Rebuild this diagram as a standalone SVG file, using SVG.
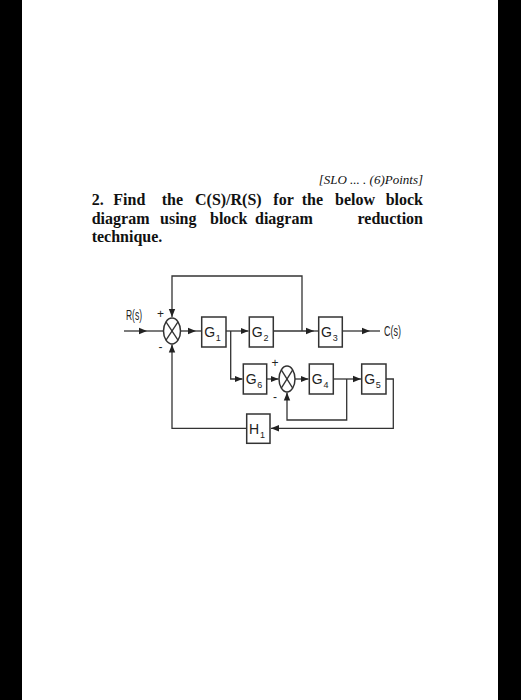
<svg xmlns="http://www.w3.org/2000/svg" width="521" height="700" viewBox="0 0 521 700">
<defs>
<style>
.bar{fill:#000}
.page{fill:#fff}
.hdr{font-family:"Liberation Serif","Times New Roman",serif;font-size:16px;font-weight:bold;fill:#111}
.slo{font-family:"Liberation Serif","Times New Roman",serif;font-size:13px;font-style:italic;fill:#111}
.blk{fill:#fff;stroke:#333;stroke-width:1.5}
.sum{fill:#fff;stroke:#333;stroke-width:1.5}
.x{stroke:#333;stroke-width:1.3}
.lbl{font-family:"Liberation Sans",Arial,sans-serif;font-size:14px;fill:#222}
.sub{font-family:"Liberation Sans",Arial,sans-serif;font-size:9px;fill:#222}
.sig{font-family:"Liberation Sans",Arial,sans-serif;font-size:14px;fill:#222}
.pm{font-family:"Liberation Sans",Arial,sans-serif;font-size:12px;fill:#222}
.w{fill:none;stroke:#333;stroke-width:1.3}
</style>
<marker id="arr" viewBox="0 0 8 8" refX="8" refY="4" markerWidth="8" markerHeight="8" markerUnits="userSpaceOnUse" orient="auto">
<path d="M0,0.8 L8,4 L0,7.2 Z" fill="#222"/>
</marker>
</defs>
<rect class="page" x="0" y="0" width="521" height="700"/>
<rect class="bar" x="0" y="0" width="22" height="700"/>
<rect class="bar" x="498" y="0" width="23" height="700"/>

<g id="header">
<text class="slo" x="423" y="184" text-anchor="end">[SLO ... . (6)Points]</text>
<text class="hdr" y="205"><tspan x="91.7">2.</tspan><tspan x="113.3">Find</tspan><tspan x="161.7">the</tspan><tspan x="195">C(S)/R(S)</tspan><tspan x="273.3">for</tspan><tspan x="301.7">the</tspan><tspan x="335">below</tspan><tspan x="423" text-anchor="end">block</tspan></text>
<text class="hdr" y="224"><tspan x="91.7">diagram</tspan><tspan x="160">using</tspan><tspan x="210">block</tspan><tspan x="255">diagram</tspan><tspan x="423" text-anchor="end">reduction</tspan></text>
<text class="hdr" x="91.7" y="242">technique.</text>
</g>

<g id="connectors">
<path class="w" d="M124,331 H147" marker-end="url(#arr)"/>
<path class="w" d="M147,331 H163.5"/>
<path class="w" d="M180.5,331 H196" marker-end="url(#arr)"/>
<path class="w" d="M196,331 H201.7"/>
<path class="w" d="M226,331 H248.5" marker-end="url(#arr)"/>
<path class="w" d="M230.7,331 V379 H242.5" marker-end="url(#arr)"/>
<path class="w" d="M273.3,331 H314" marker-end="url(#arr)"/>
<path class="w" d="M314,331 H318.7"/>
<path class="w" d="M302,331 V276 H172 V317" marker-end="url(#arr)"/>
<path class="w" d="M342.3,331 H370" marker-end="url(#arr)"/>
<path class="w" d="M370,331 H380"/>
<path class="w" d="M266.7,379 H278.5" marker-end="url(#arr)"/>
<path class="w" d="M295,379 H308.5" marker-end="url(#arr)"/>
<path class="w" d="M333.3,379 H361" marker-end="url(#arr)"/>
<path class="w" d="M346.7,379 V420 H287 V392.5" marker-end="url(#arr)"/>
<path class="w" d="M386,379 H393.3 V428.3 H271" marker-end="url(#arr)"/>
<path class="w" d="M246.7,428.3 H172 V344.5" marker-end="url(#arr)"/>
</g>

<g id="sum1">
<ellipse class="sum" cx="172" cy="331" rx="8.5" ry="13"/>
<line class="x" x1="166" y1="321.8" x2="178" y2="340.2"/>
<line class="x" x1="178" y1="321.8" x2="166" y2="340.2"/>
<text class="pm" x="157" y="318">+</text>
<text class="pm" x="158.5" y="351">-</text>
</g>

<g id="sum2">
<ellipse class="sum" cx="287" cy="379" rx="8" ry="13"/>
<line class="x" x1="281.3" y1="369.8" x2="292.7" y2="388.2"/>
<line class="x" x1="292.7" y1="369.8" x2="281.3" y2="388.2"/>
<text class="pm" x="271.5" y="367">+</text>
<text class="pm" x="273" y="401">-</text>
</g>

<g id="R"><text class="sig" x="126" y="320" textLength="16" lengthAdjust="spacingAndGlyphs">R(s)</text></g>
<g id="C"><text class="sig" x="384" y="336" textLength="17" lengthAdjust="spacingAndGlyphs">C(s)</text></g>

<g id="G1"><rect class="blk" x="201.7" y="317" width="24.3" height="30"/><text class="lbl" x="204.2" y="337">G</text><text class="sub" x="215.8" y="341">1</text></g>
<g id="G2"><rect class="blk" x="249.3" y="317" width="24" height="30"/><text class="lbl" x="251.8" y="337">G</text><text class="sub" x="263.4" y="341">2</text></g>
<g id="G3"><rect class="blk" x="318.7" y="317" width="23.6" height="30"/><text class="lbl" x="321.1" y="337">G</text><text class="sub" x="332.7" y="341">3</text></g>
<g id="G6"><rect class="blk" x="243.3" y="364" width="23.4" height="30"/><text class="lbl" x="245.7" y="384">G</text><text class="sub" x="257.3" y="388">6</text></g>
<g id="G4"><rect class="blk" x="309.3" y="364" width="24" height="30"/><text class="lbl" x="311.8" y="384">G</text><text class="sub" x="323.4" y="388">4</text></g>
<g id="G5"><rect class="blk" x="361.7" y="364" width="24.3" height="30"/><text class="lbl" x="364.2" y="384">G</text><text class="sub" x="375.8" y="388">5</text></g>
<g id="H1"><rect class="blk" x="246.7" y="414" width="23.3" height="29.3"/><text class="lbl" x="249" y="434">H</text><text class="sub" x="260" y="438">1</text></g>
</svg>
